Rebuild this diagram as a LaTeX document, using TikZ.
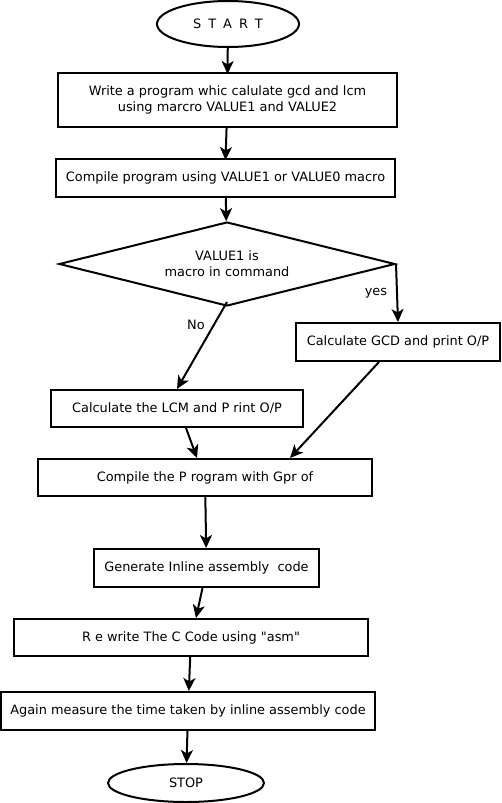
\documentclass[tikz,border=0pt]{standalone}
\usepackage{fontspec}
\setmainfont{DejaVu Sans}
\usetikzlibrary{shapes.geometric,arrows.meta}
\begin{document}
\begin{tikzpicture}[x=1pt, y=-1pt,
		every node/.style={font=\fontsize{12.9}{16}\selectfont},
		procbox/.style={draw=black, line width=2pt, rectangle, inner sep=0pt, align=center},
		termbox/.style={draw=black, line width=2pt, ellipse, inner sep=0pt},
		decbox/.style={draw=black, line width=2pt, diamond, aspect=4, inner sep=0pt, align=center},
		flow/.style={draw=black, line width=2pt, -{Stealth[length=13pt, width=12pt, inset=3.5pt]}},
		lbl/.style={inner sep=0pt}]
		\useasboundingbox (0,0) rectangle (501,803);
		\node[termbox, minimum width=142, minimum height=46] (start) at (228,24) {{\spaceskip=7pt S T A R T}};
		\node[procbox, minimum width=339, minimum height=54] (write) at (227.5,100) {Write a program whic calulate gcd and lcm\\using marcro VALUE1 and VALUE2};
		\node[procbox, minimum width=339, minimum height=38] (compile) at (225.5,178) {Compile program using VALUE1 or VALUE0 macro};
		\node[decbox, minimum width=336, minimum height=84] (check) at (227,264) {VALUE1 is\\macro in command};
		\node[procbox, minimum width=204, minimum height=38] (gcd) at (398,342) {Calculate GCD and print O/P};
		\node[procbox, minimum width=252, minimum height=37] (lcm) at (177,408.5) {Calculate the LCM and P rint O/P};
		\node[procbox, minimum width=334, minimum height=37] (gprof) at (205,477.5) {Compile the P rogram with Gpr of};
		\node[procbox, minimum width=225, minimum height=38] (inline) at (206.5,568) {Generate Inline assembly\ \ code};
		\node[procbox, minimum width=354, minimum height=37] (rewrite) at (191,637.5) {R e write The C Code using \textquotedbl asm\textquotedbl};
		\node[procbox, minimum width=374, minimum height=38] (measure) at (188,711) {Again measure the time taken by inline assembly code};
		\node[termbox, minimum width=156, minimum height=38] (stop) at (186,783) {STOP};
		\node[lbl] (yes) at (376,293) {yes};
		\node[lbl] (no) at (196,325) {No};
		\draw[flow] (start) -- ([yshift=-2]write.north);
		\draw[flow] (write) -- ([yshift=-2]compile.north);
		\draw[flow] (compile) -- (check);
		\draw[flow] (check.east) -- (gcd.north);
		\draw[flow] ([yshift=5]check.south) -- (lcm.north);
		\draw[flow] ([xshift=9]lcm.south) -- ([xshift=-8]gprof.north);
		\draw[flow] ([xshift=-19]gcd.south) -- ([xshift=85]gprof.north);
		\draw[flow] (gprof) -- (inline);
		\draw[flow] ([xshift=-4]inline.south) -- ([xshift=5]rewrite.north);
		\draw[flow] (rewrite) -- (measure);
		\draw[flow] (measure) -- (stop);
	\end{tikzpicture}
\end{document}
